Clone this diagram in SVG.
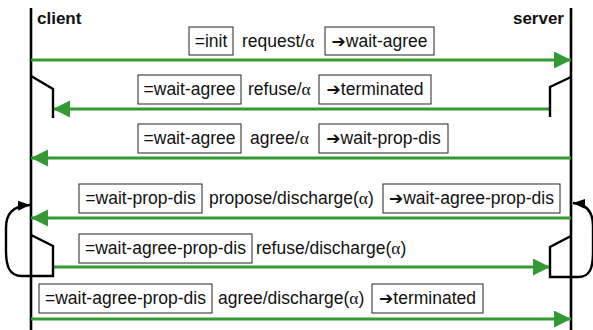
<svg xmlns="http://www.w3.org/2000/svg" width="593" height="330" viewBox="0 0 593 330">
  <style>
    .life { stroke: #000; stroke-width: 2.6; fill: none; }
    .msg { stroke: #339933; stroke-width: 3; fill: none; marker-end: url(#g-arrow); }
    .bend { stroke: #000; stroke-width: 2.4; fill: none; stroke-linejoin: miter; }
    .loop { stroke: #000; stroke-width: 2.4; fill: none; marker-end: url(#k-arrow); }
    .box { fill: #fff; stroke: #222; stroke-width: 1; }
    .t { font-family: "Liberation Sans", Arial, sans-serif; font-size: 17.5px; fill: #111; }
    .role { font-family: "Liberation Sans", Arial, sans-serif; font-size: 17px; font-weight: bold; fill: #111; }
    .al { font-family: "Liberation Serif", "Times New Roman", serif; }
    .ar { font-family: "DejaVu Sans", sans-serif; font-size: 17px; }
  </style>
  <defs>
    <marker id="g-arrow" markerUnits="userSpaceOnUse" markerWidth="18" markerHeight="18" refX="17" refY="8.5" orient="auto">
      <path d="M0,0 L17,8.5 L0,17 z" fill="#339933"/>
    </marker>
    <marker id="k-arrow" markerUnits="userSpaceOnUse" markerWidth="14" markerHeight="12" refX="12" refY="5" orient="auto">
      <path d="M0,0 L12,5 L0,10 z" fill="#000"/>
    </marker>
  </defs>

  <!-- lifelines -->
  <g id="client">
    <line class="life" x1="31" y1="8" x2="31" y2="330"/>
    <text class="role" x="37" y="24">client</text>
  </g>
  <g id="server">
    <line class="life" x1="571" y1="8" x2="571" y2="330"/>
    <text class="role" x="564" y="24" text-anchor="end">server</text>
  </g>

  <!-- messages -->
  <g id="connectors">
    <line class="msg" x1="31" y1="60" x2="571" y2="60"/>
    <line class="msg" x1="550" y1="109" x2="53" y2="109"/>
    <line class="msg" x1="571" y1="158" x2="31" y2="158"/>
    <line class="msg" x1="571" y1="218" x2="31" y2="218"/>
    <line class="msg" x1="53" y1="267" x2="550" y2="267"/>
    <line class="msg" x1="31" y1="319" x2="571" y2="319"/>

    <!-- activation offsets -->
    <path class="bend" d="M31,76 L53,89 L53,118"/>
    <path class="bend" d="M571,77 L550,87 L550,117"/>

    <!-- self loops -->
    <path class="bend" d="M31,235 L53,246 L53,276 L22,276"/>
    <path class="loop" d="M22,276 C9,276 6,266 6,250 L6,228 C6,214 12,206 30,205"/>
    <path class="bend" d="M571,236 L550,247 L550,277 L578,277"/>
    <path class="loop" d="M578,277 C590,277 593,268 593,252 L593,226 C593,212 587,204 573,203"/>
  </g>

  <!-- row 1 -->
  <g id="m1">
    <rect class="box" x="189" y="27" width="44" height="28"/>
    <text class="t" x="211" y="47" text-anchor="middle">=init</text>
    <text class="t" x="242" y="47">request/<tspan class="al">α</tspan></text>
    <rect class="box" x="325" y="27" width="109" height="28"/>
    <text class="t" x="379.5" y="47" text-anchor="middle"><tspan class="ar">➔</tspan>wait-agree</text>
  </g>

  <!-- row 2 -->
  <g id="m2">
    <rect class="box" x="138" y="75" width="103" height="29"/>
    <text class="t" x="189.5" y="95" text-anchor="middle">=wait-agree</text>
    <text class="t" x="248" y="95">refuse/<tspan class="al">α</tspan></text>
    <rect class="box" x="319" y="75" width="112" height="29"/>
    <text class="t" x="375" y="95" text-anchor="middle"><tspan class="ar">➔</tspan>terminated</text>
  </g>

  <!-- row 3 -->
  <g id="m3">
    <rect class="box" x="138" y="124" width="103" height="29"/>
    <text class="t" x="189.5" y="144" text-anchor="middle">=wait-agree</text>
    <text class="t" x="250" y="144">agree/<tspan class="al">α</tspan></text>
    <rect class="box" x="319" y="124" width="129" height="29"/>
    <text class="t" x="383.5" y="144" text-anchor="middle"><tspan class="ar">➔</tspan>wait-prop-dis</text>
  </g>

  <!-- row 4 -->
  <g id="m4">
    <rect class="box" x="79" y="184" width="123" height="29"/>
    <text class="t" x="140.5" y="204" text-anchor="middle">=wait-prop-dis</text>
    <text class="t" x="209" y="204">propose/discharge(<tspan class="al">α</tspan>)</text>
    <rect class="box" x="383" y="184" width="177" height="29"/>
    <text class="t" x="471.5" y="204" text-anchor="middle"><tspan class="ar">➔</tspan>wait-agree-prop-dis</text>
  </g>

  <!-- row 5 -->
  <g id="m5">
    <rect class="box" x="79" y="234" width="173" height="29"/>
    <text class="t" x="165.5" y="254" text-anchor="middle">=wait-agree-prop-dis</text>
    <text class="t" x="256" y="254">refuse/discharge(<tspan class="al">α</tspan>)</text>
  </g>

  <!-- row 6 -->
  <g id="m6">
    <rect class="box" x="39" y="284" width="173" height="29"/>
    <text class="t" x="125.5" y="304" text-anchor="middle">=wait-agree-prop-dis</text>
    <text class="t" x="218" y="304">agree/discharge(<tspan class="al">α</tspan>)</text>
    <rect class="box" x="372" y="284" width="111" height="29"/>
    <text class="t" x="427.5" y="304" text-anchor="middle"><tspan class="ar">➔</tspan>terminated</text>
  </g>
</svg>
